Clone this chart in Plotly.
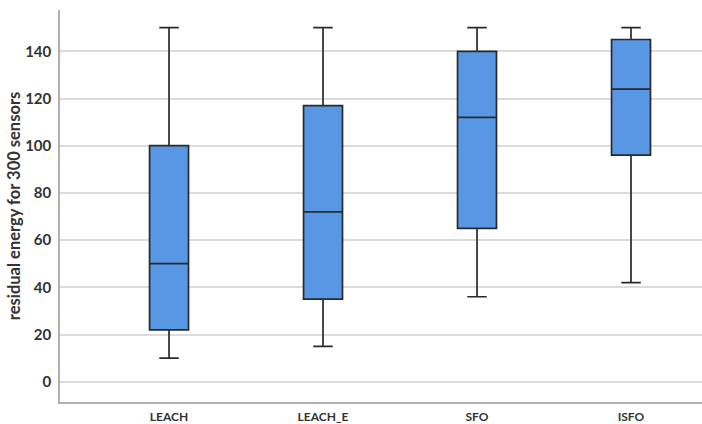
import plotly.graph_objects as go

categories = ["LEACH", "LEACH_E", "SFO", "ISFO"]
lower = [10, 15, 36, 42]
q1 = [22, 35, 65, 96]
median = [50, 72, 112, 124]
q3 = [100, 117, 140, 145]
upper = [150, 150, 150, 150]
y_ticks = [0, 20, 40, 60, 80, 100, 120, 140]

fig = go.Figure()
fig.add_trace(go.Box(
    x=categories,
    q1=q1, median=median, q3=q3,
    lowerfence=lower, upperfence=upper,
    fillcolor="#5797E3",
    line=dict(color="#2a2a2a", width=1.7),
    width=0.253,
    whiskerwidth=0.5,
    boxpoints=False,
    hoverinfo="skip",
    showlegend=False,
))

font_family = "Lato, 'Open Sans', sans-serif"
fig.update_layout(
    width=702, height=424,
    margin=dict(l=60, r=0, t=10, b=22),
    plot_bgcolor="white", paper_bgcolor="white",
    font=dict(family=font_family, color="#333333"),
    xaxis=dict(
        type="category",
        range=[-0.708, 3.461],
        showgrid=False,
        showline=True, linecolor="#b0b0b0", linewidth=1.5,
        ticks="",
        tickfont=dict(size=12, family=font_family, weight="bold", color="#333333"),
        ticklabelstandoff=3,
        zeroline=False,
    ),
    yaxis=dict(
        range=[-8.6, 157.5],
        tickvals=y_ticks,
        showgrid=True, gridcolor="#dcdcdc", gridwidth=1.5,
        showline=True, linecolor="#b0b0b0", linewidth=1.5,
        ticks="",
        tickfont=dict(size=15, family=font_family, weight="bold", color="#333333"),
        ticklabelstandoff=4,
        zeroline=False,
        title=dict(text="residual energy for 300 sensors",
                   font=dict(size=16.5, family=font_family, weight="bold", color="#333333"),
                   standoff=0),
    ),
)

fig.write_html("out.html")
